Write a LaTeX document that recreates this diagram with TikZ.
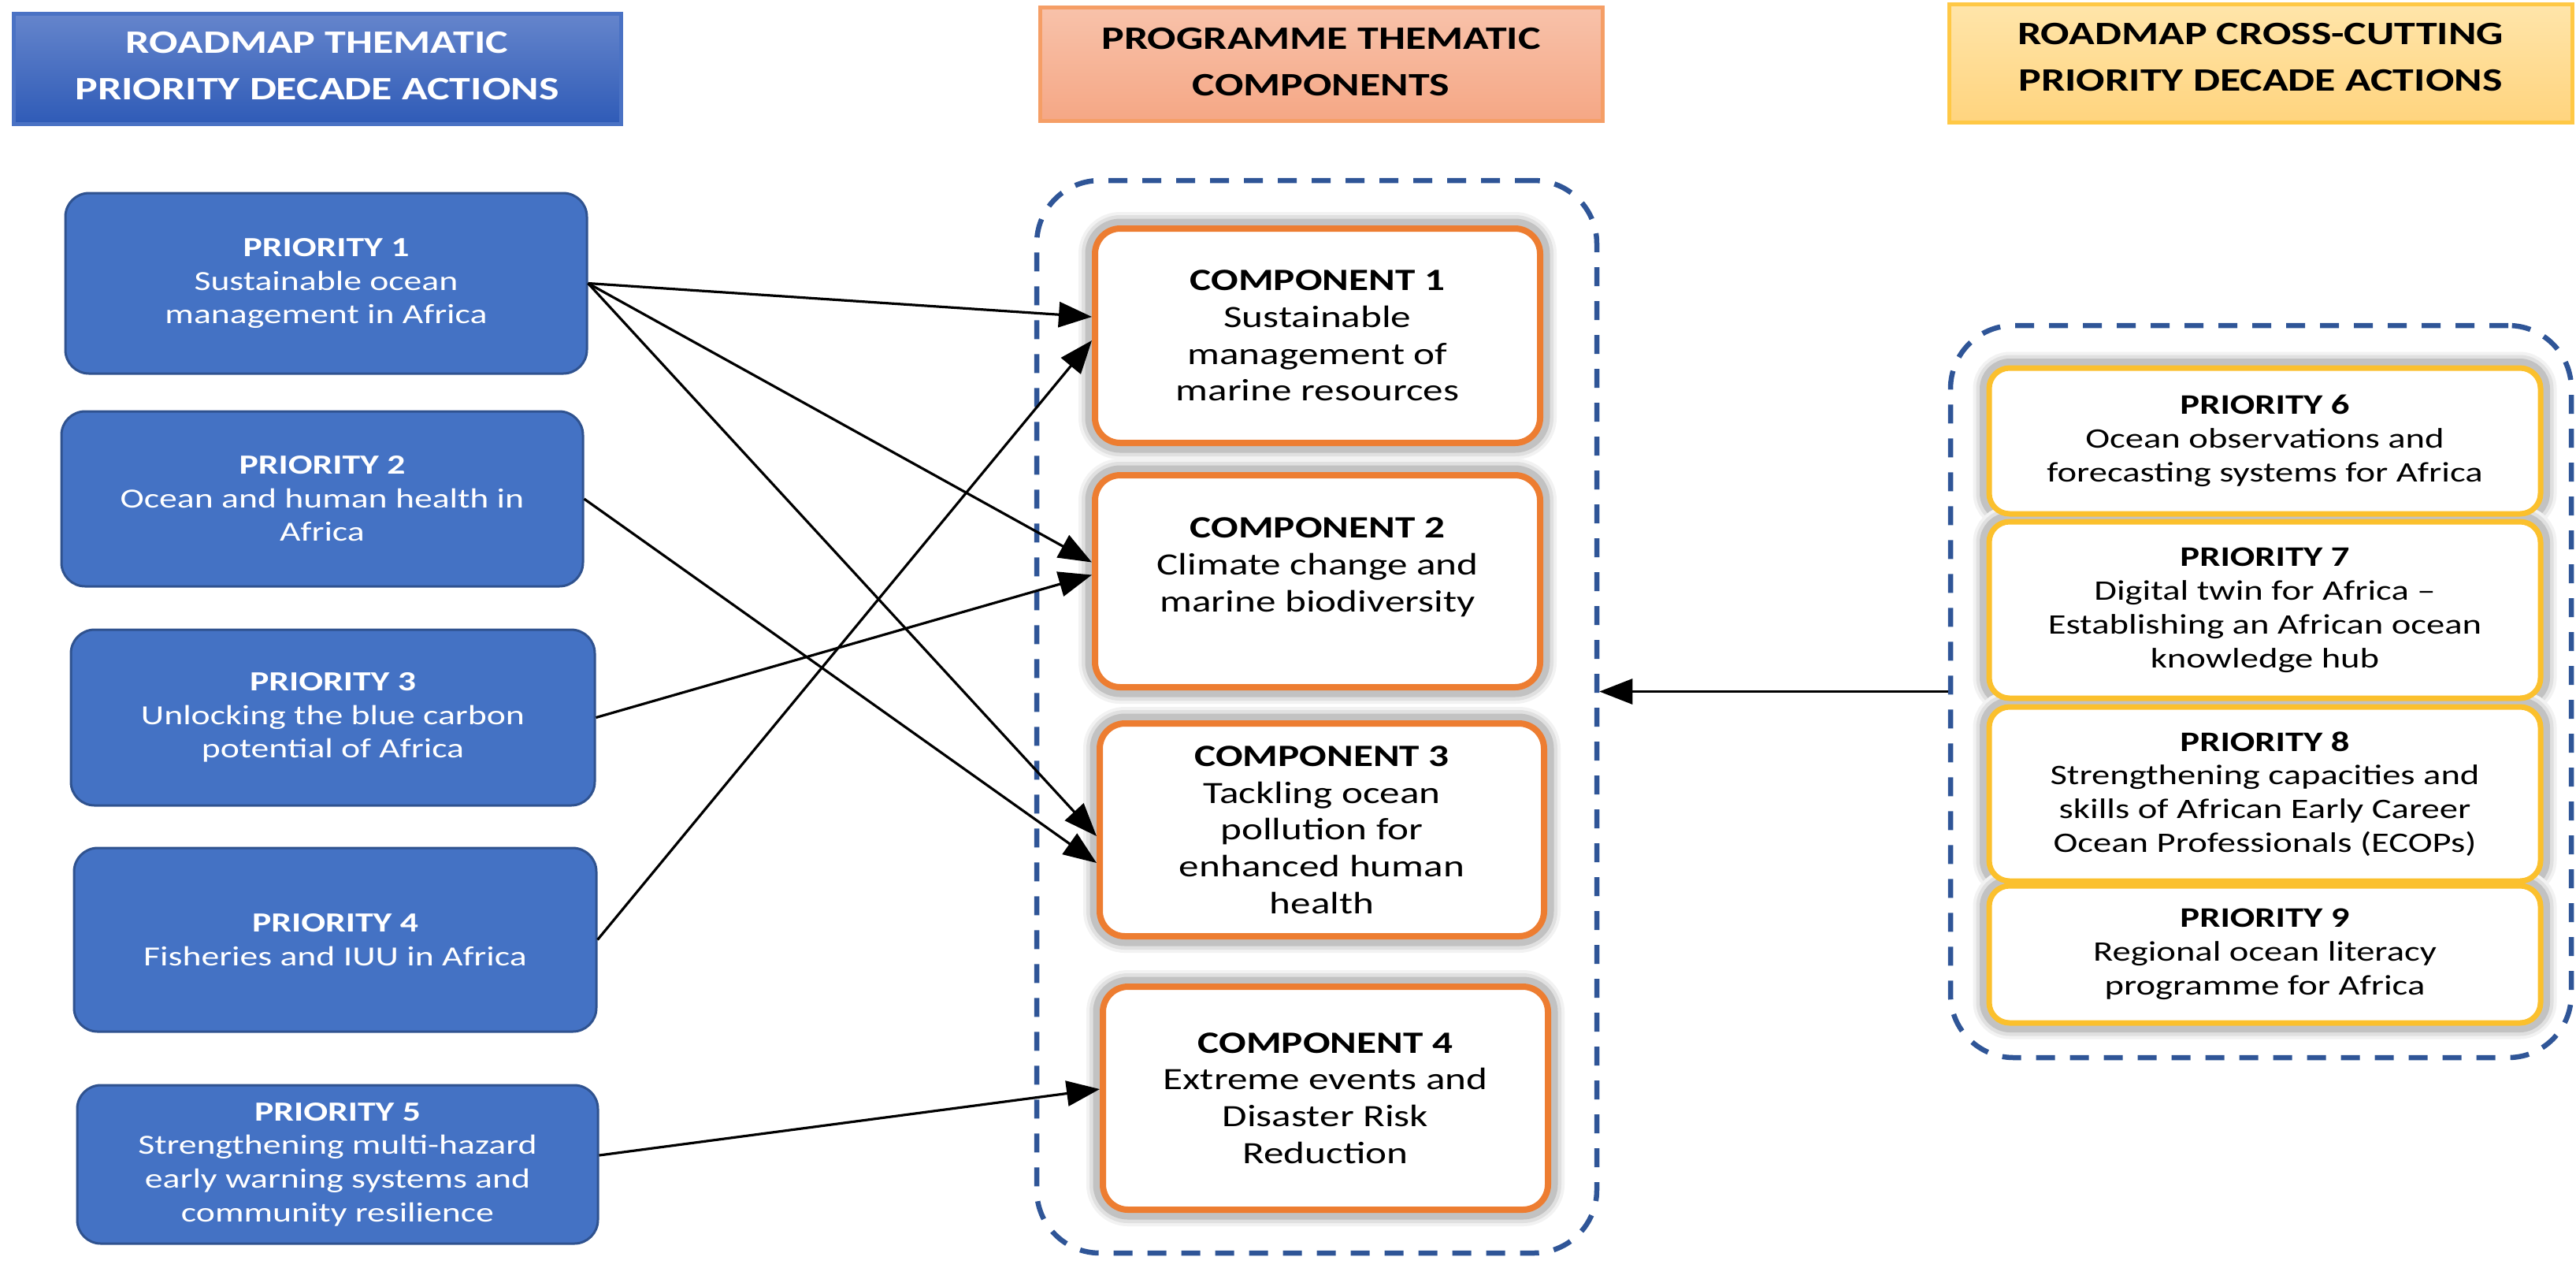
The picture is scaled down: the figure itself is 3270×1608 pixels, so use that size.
\documentclass[tikz,border=0pt]{standalone}
\usepackage{fontspec}
\setmainfont{Carlito}[FakeStretch=1.3]
\usetikzlibrary{arrows.meta,backgrounds}
\definecolor{blueF}{HTML}{4472C4}
\definecolor{blueD}{HTML}{2F528F}
\definecolor{hdrBlueT}{HTML}{6585CC}
\definecolor{hdrBlueB}{HTML}{2F5BB7}
\definecolor{hdrBlueD}{HTML}{4A72C4}
\definecolor{hdrOrT}{HTML}{F8C2AA}
\definecolor{hdrOrB}{HTML}{F5A785}
\definecolor{hdrOrD}{HTML}{F59E66}
\definecolor{hdrYeT}{HTML}{FFE5AA}
\definecolor{hdrYeB}{HTML}{FFD47E}
\definecolor{hdrYeD}{HTML}{FFC845}
\definecolor{orangeC}{HTML}{ED7D31}
\definecolor{goldC}{HTML}{FBC02D}
\definecolor{dashC}{HTML}{2F5597}
\tikzset{
 hdrfont/.style={font=\bfseries\fontsize{11.8}{16.8}\selectfont, align=center, inner sep=0pt},
 hbox/.style={inner sep=0pt, line width=0.5mm},
 pri/.style={rounded corners=3mm, fill=blueF, draw=blueD, line width=0.3mm, text=white, align=center, inner sep=0pt, font=\fontsize{10}{12.1}\selectfont},
 comp/.style={rounded corners=3.2mm, fill=white, draw=orangeC, line width=0.8mm, align=center, inner sep=0pt, font=\fontsize{11.2}{13.3}\selectfont},
 rpri/.style={rounded corners=2.6mm, fill=white, draw=goldC, line width=0.7mm, align=center, inner sep=0pt, font=\fontsize{10.2}{12.2}\selectfont},
 glowpath/.style={preaction={draw=black!5,line width=3.4mm}, preaction={draw=black!12,line width=2.6mm}, draw=black!24, line width=1.7mm},
 cont/.style={draw=dashC, line width=0.65mm, dash pattern=on 2.4mm off 1.9mm, rounded corners=8mm, inner sep=0pt},
 arr/.style={-{Triangle[length=4.2mm,width=3.2mm]}, line width=0.32mm, draw=black},
}
\begin{document}
\begin{tikzpicture}[x=0.1mm,y=-0.1mm]
\useasboundingbox (0,0) rectangle (3270,1608);

% headers
\node[hbox, top color=hdrBlueT, bottom color=hdrBlueB, draw=hdrBlueD, minimum width=77.1mm, minimum height=14mm] (LH) at (402.5,87) {};
\node[hdrfont, text=white] (LHt) at ([yshift=0.3mm]LH.center) {ROADMAP THEMATIC\\PRIORITY DECADE ACTIONS};
\node[hbox, top color=hdrOrT, bottom color=hdrOrB, draw=hdrOrD, minimum width=71.4mm, minimum height=14.4mm] (MH) at (1677,81) {};
\node[hdrfont, text=black] (MHt) at ([yshift=0.2mm]MH.center) {PROGRAMME THEMATIC\\COMPONENTS};
\node[hbox, top color=hdrYeT, bottom color=hdrYeB, draw=hdrYeD, minimum width=79.1mm, minimum height=15mm] (RH) at (2869.5,80) {};
\node[hdrfont, text=black] (RHt) at ([yshift=0.7mm]RH.center) {ROADMAP CROSS-CUTTING\\PRIORITY DECADE ACTIONS};

% left priorities
\node[pri, minimum width=66.2mm, minimum height=22.9mm] (P1) at (414,359.5) {\textbf{PRIORITY 1}\\Sustainable ocean\\management in Africa};
\node[pri, minimum width=66.2mm, minimum height=22.2mm] (P2) at (409,633) {\textbf{PRIORITY 2}\\Ocean and human health in\\Africa};
\node[pri, minimum width=66.5mm, minimum height=22.3mm] (P3) at (422.5,910.5) {\textbf{PRIORITY 3}\\Unlocking the blue carbon\\potential of Africa};
\node[pri, minimum width=66.3mm, minimum height=23.3mm] (P4) at (425.5,1192.5) {\textbf{PRIORITY 4}\\Fisheries and IUU in Africa};
\node[pri, minimum width=66.1mm, minimum height=20.1mm] (P5) at (428.5,1477.5) {\textbf{PRIORITY 5}\\Strengthening multi-hazard\\early warning systems and\\community resilience};

% containers
\node[cont, minimum width=71.1mm, minimum height=136.1mm] (MC) at (1671.5,909.5) {};
\node[cont, minimum width=78.8mm, minimum height=92.9mm] (RC) at (2870,877.5) {};

% components
\node[comp, minimum width=56.5mm, minimum height=27.2mm] (C1) at (1672.5,426) {\textbf{COMPONENT 1}\\Sustainable\\management of\\marine resources};
\node[comp, minimum width=56.5mm, minimum height=26.9mm, text depth=4.2mm] (C2) at (1672.5,737.5) {\textbf{COMPONENT 2}\\Climate change and\\marine biodiversity};
\node[comp, minimum width=56.4mm, minimum height=27mm] (C3) at (1678,1053) {\textbf{COMPONENT 3}\\Tackling ocean\\pollution for\\enhanced human\\health};
\node[comp, minimum width=56.5mm, minimum height=28.3mm] (C4) at (1682.5,1393.5) {\textbf{COMPONENT 4}\\Extreme events and\\Disaster Risk\\Reduction};

% right priorities
\node[rpri, minimum width=70mm, minimum height=18.5mm] (P6) at (2875,559.5) {\textbf{PRIORITY 6}\\Ocean observations and\\forecasting systems for Africa};
\node[rpri, minimum width=70mm, minimum height=22.4mm] (P7) at (2875,774) {\textbf{PRIORITY 7}\\Digital twin for Africa –\\Establishing an African ocean\\knowledge hub};
\node[rpri, minimum width=70mm, minimum height=22.1mm] (P8) at (2875,1007.5) {\textbf{PRIORITY 8}\\Strengthening capacities and\\skills of African Early Career\\Ocean Professionals (ECOPs)};
\node[rpri, minimum width=70mm, minimum height=17.4mm] (P9) at (2875,1211) {\textbf{PRIORITY 9}\\Regional ocean literacy\\programme for Africa};

% glows behind
\begin{pgfonlayer}{background}
\fill[white] (0,0) rectangle (3270,1608);
\foreach \n in {C1,C2,C3,C4}{
  \path[glowpath, rounded corners=3.6mm] (\n.south west) rectangle (\n.north east);
}
\foreach \n in {P6,P7,P8,P9}{
  \path[glowpath, rounded corners=3mm] (\n.south west) rectangle (\n.north east);
}
\end{pgfonlayer}

% arrows
\draw[arr] (P1.east) -- ([yshift=2.4mm]C1.west);
\draw[arr] (P1.east) -- ([yshift=2.4mm]C2.west);
\draw[arr] (P1.east) -- ([yshift=-0.8mm]C3.west);
\draw[arr] (P2.east) -- ([yshift=-4.2mm]C3.west);
\draw[arr] (P3.east) -- ([yshift=0.8mm]C2.west);
\draw[arr] (P4.east) -- ([yshift=-0.6mm]C1.west);
\draw[arr] ([yshift=1.15mm]P5.east) -- ([yshift=1.15mm]C4.west);
\draw[arr] (RC.west) -- (MC.east |- RC.west);
\end{tikzpicture}
\end{document}
